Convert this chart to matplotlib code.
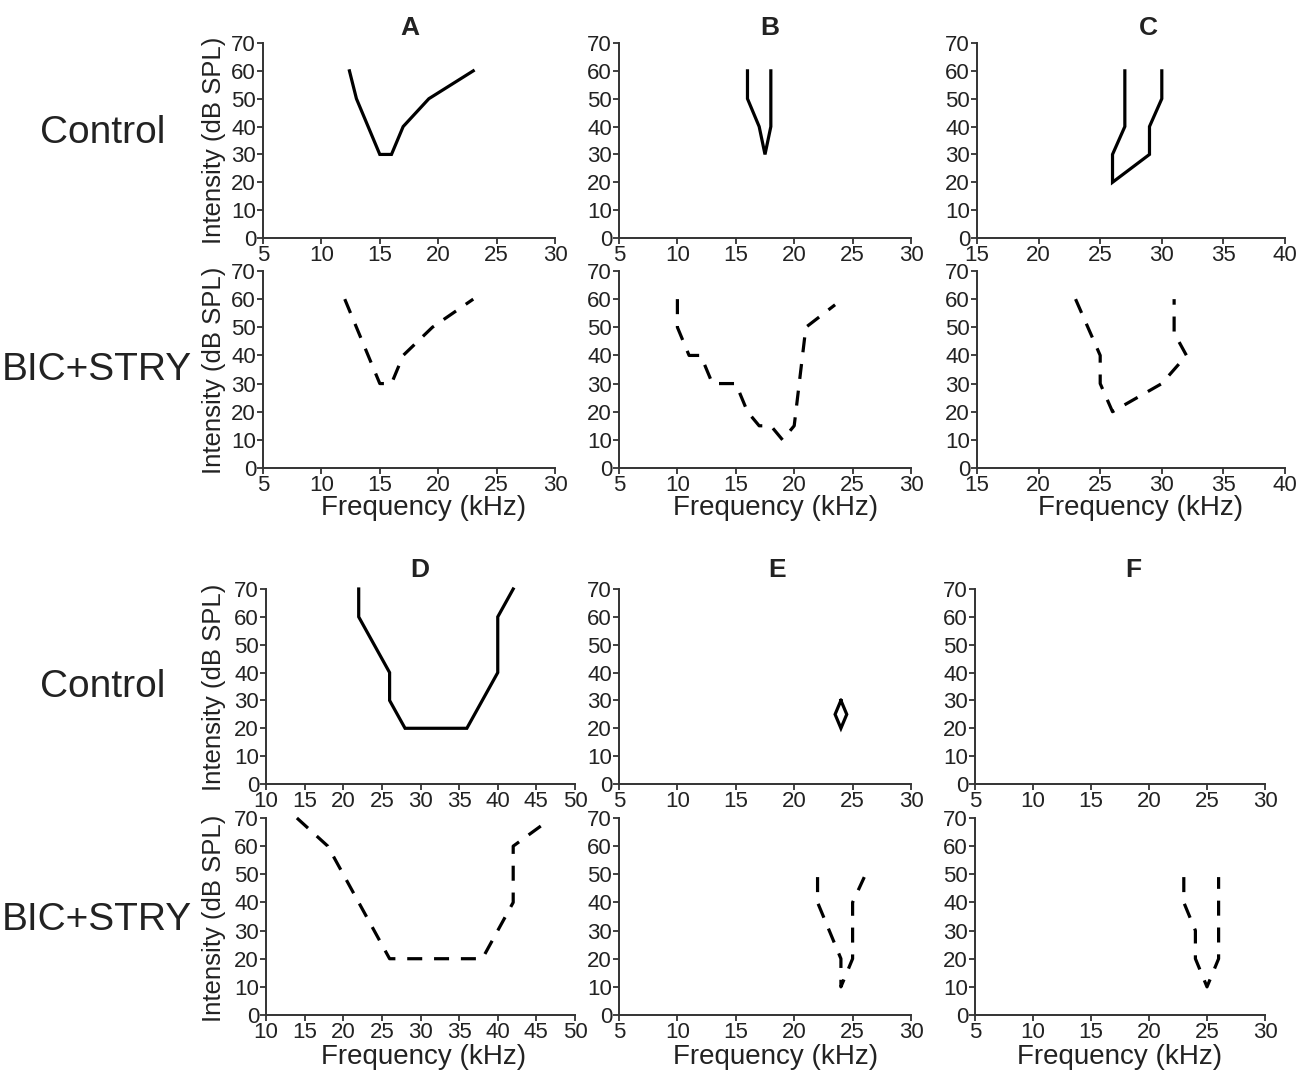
import matplotlib
matplotlib.use("Agg")
import matplotlib.pyplot as plt

plt.rcParams['font.family'] = ['Liberation Sans', 'DejaVu Sans']

# tuning curves: frequency (kHz) vs threshold (dB SPL)
a_ctl_x = [12.4, 13, 14, 15, 16, 17, 19.2, 23]
a_ctl_y = [60, 50, 40, 30, 30, 40, 50, 60]
a_bic_x = [12, 13.5, 15, 16, 17, 19.5, 23]
a_bic_y = [60, 45, 30, 30, 40, 50, 60]

b_ctl_x = [16, 16, 17, 17.5, 18, 18]
b_ctl_y = [60, 50, 40, 30, 40, 60]
b_bic_x = [10, 10, 11, 12, 13, 15, 16, 17, 18, 19, 20, 21, 23.5]
b_bic_y = [60, 50, 40, 40, 30, 30, 20, 15, 15, 10, 15, 50, 58]

c_ctl_x = [27, 27, 26, 26, 29, 29, 30, 30]
c_ctl_y = [60, 40, 30, 20, 30, 40, 50, 60]
c_bic_x = [23, 25, 25, 26, 30, 32, 31, 31]
c_bic_y = [60, 40, 30, 20, 30, 40, 48, 60]

d_ctl_x = [22, 22, 26, 26, 28, 36, 40, 40, 42]
d_ctl_y = [70, 60, 40, 30, 20, 20, 40, 60, 70]
d_bic_x = [14, 18, 26, 38, 42, 42, 46]
d_bic_y = [70, 60, 20, 20, 40, 60, 68]

e_ctl_x = [24, 24.5, 24, 23.5, 24]
e_ctl_y = [30, 25, 20, 25, 30]
e_bic_x = [22, 22, 24, 24, 25, 25, 26]
e_bic_y = [49, 40, 20, 10, 20, 40, 49]

f_ctl_x = []
f_ctl_y = []
f_bic_x = [23, 23, 24, 24, 25, 26, 26]
f_bic_y = [49, 40, 30, 20, 10, 20, 49]

W, H = 1301, 1072
fig = plt.figure(figsize=(W / 100, H / 100), dpi=100)

DASH = (0, (4.7, 3.7))
LW = 2.3


def add_ax(x0, x1, y0, y1, xlim, xticks, data, dashed):
    ax = fig.add_axes([x0 / W, 1 - y1 / H, (x1 - x0) / W, (y1 - y0) / H])
    x, y = data
    if len(x):
        ax.plot(x, y, color='black', lw=LW, clip_on=False,
                linestyle=DASH if dashed else '-', solid_joinstyle='miter')
    ax.set_xlim(xlim)
    ax.set_ylim(0, 70)
    ax.set_xticks(xticks)
    ax.set_yticks(range(0, 71, 10))
    for s in ['top', 'right']:
        ax.spines[s].set_visible(False)
    for s in ['left', 'bottom']:
        ax.spines[s].set_linewidth(1.4)
        ax.spines[s].set_color('#333333')
    ax.tick_params(direction='out', length=4, width=1.3, color='#333333',
                   labelsize=16, labelcolor='#222222', pad=1)
    return ax


def ftext(px, py, s, **kw):
    fig.text(px / W, 1 - py / H, s, ha='center', va='center', color='#222222', **kw)


t5_30 = range(5, 31, 5)
t15_40 = range(15, 41, 5)
t10_50 = range(10, 51, 5)

# top group
add_ax(263, 555, 43, 238, (5, 30), t5_30, (a_ctl_x, a_ctl_y), False)
add_ax(263, 555, 271, 468, (5, 30), t5_30, (a_bic_x, a_bic_y), True)
add_ax(619, 911, 43, 238, (5, 30), t5_30, (b_ctl_x, b_ctl_y), False)
add_ax(619, 911, 271, 468, (5, 30), t5_30, (b_bic_x, b_bic_y), True)
add_ax(977, 1285, 43, 238, (15, 40), t15_40, (c_ctl_x, c_ctl_y), False)
add_ax(977, 1285, 271, 468, (15, 40), t15_40, (c_bic_x, c_bic_y), True)

# bottom group
add_ax(266, 575, 589, 784, (10, 50), t10_50, (d_ctl_x, d_ctl_y), False)
add_ax(266, 575, 818, 1015, (10, 50), t10_50, (d_bic_x, d_bic_y), True)
add_ax(619, 911, 589, 784, (5, 30), t5_30, (e_ctl_x, e_ctl_y), False)
add_ax(619, 911, 818, 1015, (5, 30), t5_30, (e_bic_x, e_bic_y), True)
add_ax(975, 1265, 589, 784, (5, 30), t5_30, (f_ctl_x, f_ctl_y), False)
add_ax(975, 1265, 818, 1015, (5, 30), t5_30, (f_bic_x, f_bic_y), True)

# panel letters
for px, py, s in [(410, 28, 'A'), (770, 28, 'B'), (1148, 28, 'C'),
                  (420, 570, 'D'), (777, 570, 'E'), (1133, 570, 'F')]:
    ftext(px, py, s, fontsize=19, fontweight='bold')

# row labels
for py in [133, 687]:
    ftext(103, py, 'Control', fontsize=28)
for py in [370, 920]:
    ftext(97, py, 'BIC+STRY', fontsize=28)

# y labels
for py in [140, 370, 687, 918]:
    ftext(214, py, 'Intensity (dB SPL)', fontsize=18.5, rotation=90)

# x labels
for px, py in [(424, 508), (776, 508), (1141, 508),
               (424, 1057), (776, 1057), (1120, 1057)]:
    ftext(px, py, 'Frequency (kHz)', fontsize=20)

fig.savefig('out.png', dpi=100)
